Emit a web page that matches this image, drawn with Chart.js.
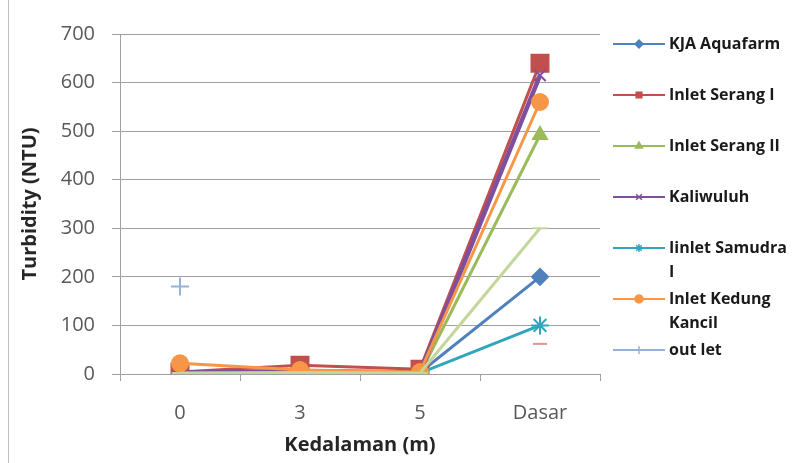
<!DOCTYPE html>
<html>
<head>
<meta charset="utf-8">
<script src="https://cdn.jsdelivr.net/npm/chart.js@4/dist/chart.umd.min.js"></script>
<style>
  html, body { margin: 0; padding: 0; background: #fff; }
  #wrap { width: 807px; height: 463px; position: relative; }
</style>
</head>
<body>
<div id="wrap"><canvas id="c" width="807" height="463"></canvas></div>
<script>
// Depth categories and turbidity readings (NTU) per sampling station
const depths = ['0', '3', '5', 'Dasar'];
const yTicks = [0, 100, 200, 300, 400, 500, 600, 700];

const kjaAquafarm       = [5, 5, 3, 200];
const inletSerang1      = [4, 18, 10, 640];
const inletSerang2      = [0, 0, 0, 492];
const kaliwuluh         = [3, 6, 3, 615];
const inletSamudra1     = [2, 3, 2, 100];
const inletKedungKancil = [22, 8, 4, 560];
const outlet            = [180, null, null, null];
const extraSeries8      = [null, null, null, 62];
const extraSeries9      = [2, 3, 2, 300];

// Legend captions, split the way they wrap in the legend box
const legendLines = [
  ['KJA Aquafarm'],
  ['Inlet Serang I'],
  ['Inlet Serang II'],
  ['Kaliwuluh'],
  ['Iinlet Samudra', 'I'],
  ['Inlet Kedung', 'Kancil'],
  ['out let']
];
const legendY = [44, 95, 146, 197, 248, 299, 350];

const FONT = "'Open Sans', 'DejaVu Sans', sans-serif";

function series(label, data, color, style, radius, lineWidth, order) {
  return {
    label, data,
    borderColor: color,
    backgroundColor: color,
    pointBackgroundColor: color,
    pointBorderColor: color,
    pointStyle: style,
    pointRadius: radius,
    pointBorderWidth: 2,
    borderWidth: lineWidth,
    tension: 0,
    spanGaps: false,
    order
  };
}

const datasets = [
  series('KJA Aquafarm', kjaAquafarm, '#4F81BD', 'rectRot', 8, 3, 9),
  series('Inlet Serang I', inletSerang1, '#C0504D', 'rect', 12, 3, 8),
  series('Inlet Serang II', inletSerang2, '#9BBB59', 'triangle', 8, 3, 7),
  series('Kaliwuluh', kaliwuluh, '#7F4F9F', 'crossRot', 8, 4.5, 6),
  series('Iinlet Samudra I', inletSamudra1, '#2FA5BE', 'star', 9, 3, 5),
  series('Inlet Kedung Kancil', inletKedungKancil, '#F79646', 'circle', 8, 3, 4),
  series('out let', outlet, '#95B3D7', 'cross', 9, 3, 3),
  series('', extraSeries8, '#D99694', 'line', 7, 3, 2),
  series('', extraSeries9, '#C3D69B', 'line', 8, 3, 1)
];

// Legend drawn to the right of the plot, one entry per named station
const sideLegend = {
  id: 'sideLegend',
  afterDraw(chart) {
    const ctx = chart.ctx;
    ctx.save();
    legendLines.forEach((lines, i) => {
      const ds = chart.data.datasets[i];
      const y = legendY[i];
      ctx.strokeStyle = ds.borderColor;
      ctx.lineWidth = 2;
      ctx.beginPath();
      ctx.moveTo(613, y);
      ctx.lineTo(665, y);
      ctx.stroke();
      ctx.fillStyle = ds.borderColor;
      ctx.lineWidth = 1.5;
      Chart.helpers.drawPoint(ctx, {
        pointStyle: ds.pointStyle, radius: 4, rotation: 0, borderWidth: 1.5
      }, 639, y);
      ctx.fillStyle = '#1a1a1a';
      ctx.font = "bold 16px " + FONT;
      ctx.textAlign = 'left';
      ctx.textBaseline = 'middle';
      lines.forEach((t, k) => ctx.fillText(t, 669, y + k * 24));
    });
    // chart frame edge
    ctx.strokeStyle = '#BFBFBF';
    ctx.lineWidth = 1;
    ctx.beginPath();
    ctx.moveTo(8.5, 0);
    ctx.lineTo(8.5, 463);
    ctx.stroke();
    ctx.restore();
  }
};

new Chart(document.getElementById('c'), {
  type: 'line',
  data: { labels: depths, datasets },
  plugins: [sideLegend],
  options: {
    responsive: false,
    animation: false,
    devicePixelRatio: 1,
    layout: { padding: { top: 34, right: 207, left: 0, bottom: 0 } },
    plugins: {
      legend: { display: false },
      tooltip: { enabled: false }
    },
    scales: {
      x: {
        offset: true,
        afterFit(scale) { scale.height = 89; },
        grid: {
          offset: true,
          drawOnChartArea: false,
          drawTicks: true,
          tickLength: 7,
          color: '#A0A0A0'
        },
        border: { display: true, color: '#A0A0A0' },
        ticks: {
          color: '#595959',
          padding: 20,
          font: { family: FONT, size: 20 }
        },
        title: {
          display: true,
          text: 'Kedalaman (m)',
          color: '#262626',
          padding: { top: 0, bottom: 6 },
          font: { family: FONT, size: 20, weight: 'bold' }
        }
      },
      y: {
        min: 0,
        max: 700,
        afterFit(scale) { scale.width = 120; },
        afterBuildTicks(scale) { scale.ticks = yTicks.map(v => ({ value: v })); },
        grid: {
          color: '#A0A0A0',
          lineWidth: 1,
          drawTicks: true,
          tickLength: 8
        },
        border: { display: true, color: '#A0A0A0' },
        ticks: {
          color: '#595959',
          padding: 17,
          font: { family: FONT, size: 20 }
        },
        title: {
          display: true,
          text: 'Turbidity (NTU)',
          color: '#262626',
          padding: { top: 18, bottom: 0 },
          font: { family: FONT, size: 20, weight: 'bold' }
        }
      }
    }
  }
});
</script>
</body>
</html>
